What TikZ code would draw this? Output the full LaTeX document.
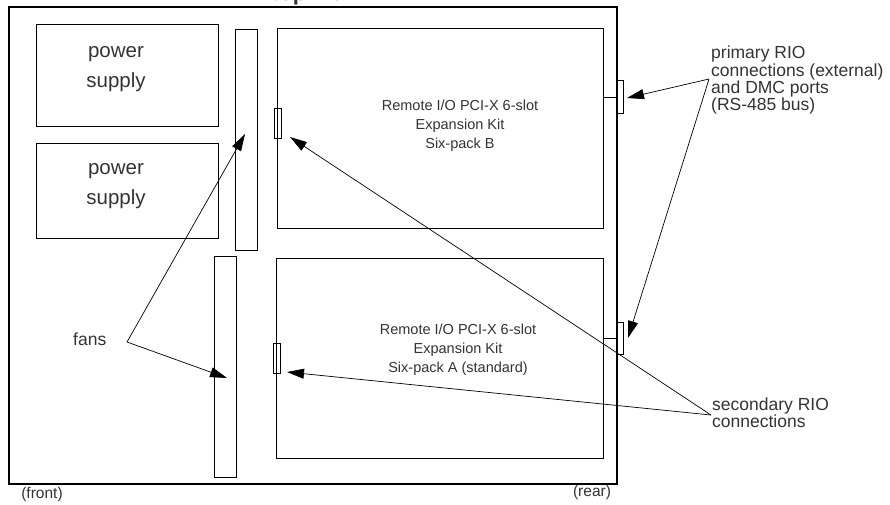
\documentclass[tikz,border=0pt]{standalone}
\usepackage{fontspec}
\setmainfont{Liberation Sans}
\usetikzlibrary{arrows.meta}
\definecolor{txt}{HTML}{333333}
\begin{document}
\begin{tikzpicture}[x=1pt,y=-1pt,
  box/.style={draw=black, line width=0.9pt, inner sep=0pt, fill=none},
  conn/.style={draw=black, line width=0.7pt, inner sep=0pt},
  lbl/.style={text=txt, inner sep=0pt, font=\fontsize{17.5}{18}\selectfont},
  inlbl/.style={text=txt, inner sep=0pt, anchor=base, font=\fontsize{14.5}{19}\selectfont},
  pslbl/.style={text=txt, inner sep=0pt, anchor=base, font=\fontsize{20.5}{26}\selectfont},
  arr/.style={line width=0.7pt, -{Triangle[length=17pt,width=10pt]}}]
\useasboundingbox (0,0) rectangle (890,504);
% title (cut off at top, as in the reference)
\node[text=txt, anchor=base, inner sep=0pt, font=\bfseries\fontsize{22}{24}\selectfont] (title) at (316,0) {top view};
% outer case
\node[box, line width=1.1pt, minimum width=608pt, minimum height=477pt] (case) at (313,245.5) {};
% power supplies
\node[box, minimum width=182pt, minimum height=102pt] (ps1) at (127,75) {};
\node[box, minimum width=182pt, minimum height=95pt] (ps2) at (127,190.5) {};
\node[pslbl] (ps1a) at (116,57) {power};
\node[pslbl] (ps1b) at (116,87) {supply};
\node[pslbl] (ps2a) at (116,174) {power};
\node[pslbl] (ps2b) at (116,204) {supply};
% fans
\node[box, minimum width=22pt, minimum height=221pt] (fan1) at (246,139.5) {};
\node[box, minimum width=22pt, minimum height=221pt] (fan2) at (225,366.5) {};
% six-packs
\node[box, minimum width=326pt, minimum height=200pt] (spB) at (440,128) {};
\node[box, minimum width=327pt, minimum height=200pt] (spA) at (439.5,358) {};
\node[inlbl] (b1) at (460,110) {Remote I/O PCI-X 6-slot};
\node[inlbl] (b2) at (460,129) {Expansion Kit};
\node[inlbl] (b3) at (460,148) {Six-pack B};
\node[inlbl] (a1) at (458,334) {Remote I/O PCI-X 6-slot};
\node[inlbl] (a2) at (458,353) {Expansion Kit};
\node[inlbl] (a3) at (458,372) {Six-pack A (standard)};
% secondary connectors
\node[conn, minimum width=7pt, minimum height=30pt] (conB) at (277.5,123) {};
\node[conn, minimum width=7pt, minimum height=30pt] (conA) at (276.5,358) {};
% primary connectors on rear
\node[conn, minimum width=6pt, minimum height=33pt] (primB) at (620,97) {};
\node[conn, minimum width=6pt, minimum height=32pt] (primA) at (620.5,338) {};
\draw[line width=0.8pt] (spB.east |- primB.west) -- (primB.west);
\draw[line width=0.8pt] (spA.east |- primA.west) -- (primA.west);
% labels
\node[lbl, anchor=base west] (p1) at (711,58) {primary RIO};
\node[lbl, anchor=base west] (p2) at (711,76) {connections (external)};
\node[lbl, anchor=base west] (p3) at (711,93) {and DMC ports};
\node[lbl, anchor=base west] (p4) at (711,110) {(RS-485 bus)};
\node[lbl, anchor=base west] (s1) at (712,410) {secondary RIO};
\node[lbl, anchor=base west] (s2) at (712,427) {connections};
\node[lbl, anchor=base west] (fans) at (73,345) {fans};
\node[text=txt, inner sep=0pt, anchor=base, font=\fontsize{15.5}{17}\selectfont] (front) at (42,498) {(front)};
\node[text=txt, inner sep=0pt, anchor=base, font=\fontsize{15.5}{17}\selectfont] (rear) at (592,496) {(rear)};
% arrow origins and tips
\coordinate (fanO) at (127,342);
\coordinate (fan1T) at (245,134);
\coordinate (fan2T) at (227,378);
\coordinate (secO) at (711,415);
\coordinate (conBT) at (290,137);
\coordinate (conAT) at (287,372);
\coordinate (primO) at (709,79);
\coordinate (primBT) at (627,98);
\coordinate (primAT) at (628,338);
\draw[arr] (fanO) -- (fan1T);
\draw[arr] (fanO) -- (fan2T);
\draw[arr] (secO) -- (conBT);
\draw[arr] (secO) -- (conAT);
\draw[arr] (primO) -- (primBT);
\draw[arr] (primO) -- (primAT);
\end{tikzpicture}
\end{document}
